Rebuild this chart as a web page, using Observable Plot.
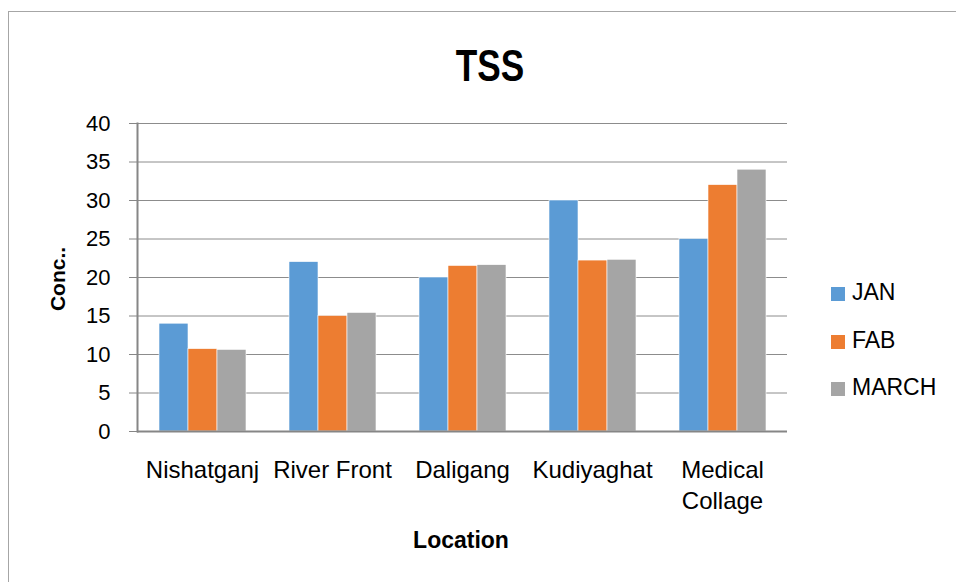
<!DOCTYPE html>
<html>
<head>
<meta charset="utf-8">
<script src="https://cdn.jsdelivr.net/npm/d3@7"></script>
<script src="https://cdn.jsdelivr.net/npm/@observablehq/plot@0.6"></script>
<style>
  html, body { margin: 0; padding: 0; background: #fff; }
  #wrap { position: relative; width: 956px; height: 582px; overflow: hidden; font-family: "Liberation Sans", Arial, sans-serif; color: #000; }
  #border { position: absolute; left: 8px; top: 11px; width: 1000px; height: 700px; border-left: 1.5px solid #a6a6a6; border-top: 1.5px solid #a6a6a6; box-sizing: border-box; }
  #chart { position: absolute; left: 0; top: 0; }
  .title { position: absolute; left: 390px; width: 200px; top: 44px; text-align: center; font-family: "Liberation Sans Narrow", "Liberation Sans", Arial, sans-serif; font-weight: bold; font-size: 44px; line-height: 44px; transform: scaleX(0.8); }
  .ylab { position: absolute; left: 57px; top: 279px; transform: translate(-50%, -50%) rotate(-90deg); font-weight: bold; font-size: 21px; line-height: 21px; white-space: nowrap; }
  .xlab { position: absolute; left: 361px; width: 200px; top: 529px; text-align: center; font-weight: bold; font-size: 23px; line-height: 23px; }
  .sw { position: absolute; width: 14px; height: 14px; }
  .lt { position: absolute; font-size: 23px; line-height: 23px; white-space: nowrap; }
</style>
</head>
<body>
<div id="wrap">
  <div id="border"></div>
  <div id="chart"></div>
  <div class="title">TSS</div>
  <div class="ylab">Conc..</div>
  <div class="xlab">Location</div>
</div>
<script>
// ---- data ----
const locations = ["Nishatganj", "River Front", "Daligang", "Kudiyaghat", "Medical Collage"];
const locationLabels = ["Nishatganj", "River Front", "Daligang", "Kudiyaghat", "Medical\nCollage"];
const series = ["JAN", "FAB", "MARCH"];
const janValues = [14, 22, 20, 30, 25];
const fabValues = [10.7, 15, 21.5, 22.2, 32];
const marchValues = [10.6, 15.4, 21.6, 22.3, 34];
const yTicks = [0, 5, 10, 15, 20, 25, 30, 35, 40];
const seriesColors = ["#5B9BD5", "#ED7D31", "#A5A5A5"];

const valuesBySeries = [janValues, fabValues, marchValues];
const table = locations.flatMap((loc, i) =>
  series.map((s, j) => ({ location: loc, series: s, value: valuesBySeries[j][i] }))
);

const chart = Plot.plot({
  width: 956,
  height: 582,
  marginLeft: 135,
  marginRight: 168,
  marginTop: 123,
  marginBottom: 151,
  style: { fontFamily: "'Liberation Sans', Arial, sans-serif", fontSize: "22px", color: "#000", background: "transparent", overflow: "visible" },
  fx: { domain: locations, padding: 0, label: null },
  x: { domain: series, paddingInner: 0, paddingOuter: 0.726, axis: null },
  y: { domain: [0, 40], label: null },
  color: { domain: series, range: seriesColors },
  marks: [
    Plot.ruleY(yTicks, { stroke: "#8c8c8c", strokeWidth: 1 }),
    Plot.barY(table, { fx: "location", x: "series", y: "value", fill: "series", stroke: "#ffffff", strokeWidth: 0.6 }),
    Plot.ruleY([0], { stroke: "#868686", strokeWidth: 2 }),
    Plot.axisY({ ticks: yTicks, tickSize: 8, tickPadding: 19, label: null, stroke: "#868686", fontSize: 22 }),
    Plot.frame({ anchor: "left", facetAnchor: "left", stroke: "#868686", strokeWidth: 2 }),
    Plot.axisFx({ anchor: "bottom", tickSize: 0, tickPadding: 24, label: null, fontSize: 24, lineHeight: 1.3,
      tickFormat: d => locationLabels[locations.indexOf(d)] })
  ]
});
document.getElementById("chart").appendChild(chart);

// ---- legend ----
const wrap = document.getElementById("wrap");
series.forEach((s, i) => {
  const sw = document.createElement("div");
  sw.className = "sw";
  sw.style.left = "831px";
  sw.style.top = (287 + i * 47.5) + "px";
  sw.style.background = seriesColors[i];
  wrap.appendChild(sw);
  const t = document.createElement("div");
  t.className = "lt";
  t.style.left = "852px";
  t.style.top = (281 + i * 47.5) + "px";
  t.textContent = s;
  wrap.appendChild(t);
});
</script>
</body>
</html>
